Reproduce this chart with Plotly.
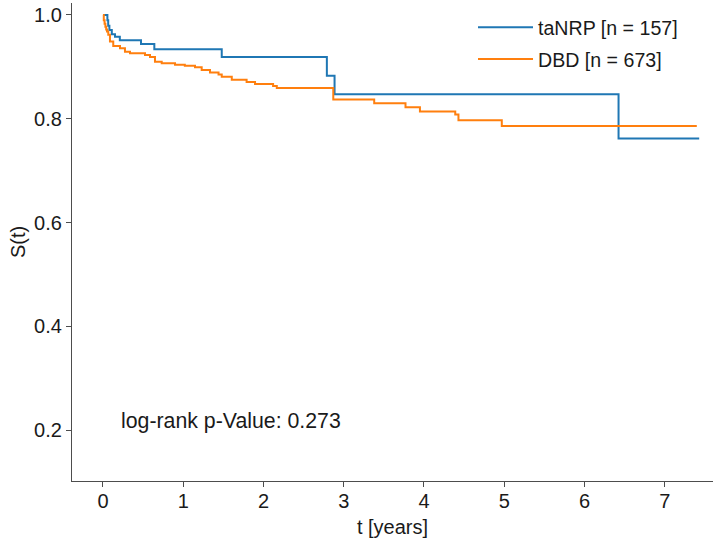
import plotly.graph_objects as go

# Kaplan-Meier step data
tanrp_t = [0.0, 0.055, 0.065, 0.08, 0.11, 0.15, 0.21, 0.474, 0.64, 1.48, 2.79, 2.886, 6.425, 7.43]
tanrp_s = [1.0, 0.990, 0.979, 0.971, 0.963, 0.958, 0.951, 0.944, 0.934, 0.919, 0.883, 0.847, 0.762, 0.762]

dbd_t = [0.0, 0.01, 0.02, 0.03, 0.04, 0.05, 0.066, 0.087, 0.128, 0.212, 0.274, 0.337, 0.524,
         0.586, 0.648, 0.732, 0.898, 1.02, 1.147, 1.23, 1.334, 1.44, 1.48, 1.605, 1.79, 1.895,
         2.12, 2.166, 2.87, 3.38, 3.77, 3.95, 4.39, 4.43, 4.97, 7.40]
dbd_s = [1.0, 0.990, 0.983, 0.977, 0.972, 0.968, 0.962, 0.949, 0.940, 0.936, 0.929, 0.926, 0.923,
         0.919, 0.910, 0.907, 0.904, 0.902, 0.899, 0.894, 0.889, 0.885, 0.881, 0.875, 0.871, 0.867,
         0.863, 0.859, 0.837, 0.830, 0.822, 0.814, 0.808, 0.797, 0.786, 0.786]

series_names = ["taNRP [n = 157]", "DBD [n = 673]"]
x_ticks = [0, 1, 2, 3, 4, 5, 6, 7]
y_ticks = [0.2, 0.4, 0.6, 0.8, 1.0]
y_tick_labels = ["0.2", "0.4", "0.6", "0.8", "1.0"]
p_value_text = "log-rank p-Value: 0.273"

FONT = "Liberation Sans, Arial, Helvetica, sans-serif"
FS = 20
FS_LEG = 19.6
FS_ANN = 21.3

fig = go.Figure()
fig.add_trace(go.Scatter(x=tanrp_t, y=tanrp_s, mode="lines", line=dict(shape="hv", color="#1f77b4", width=2),
                         name=series_names[0], legend="legend"))
fig.add_trace(go.Scatter(x=dbd_t, y=dbd_s, mode="lines", line=dict(shape="hv", color="#ff7f0e", width=2),
                         name=series_names[1], legend="legend2"))

fig.add_annotation(x=0.2, y=0.217, xref="x", yref="y", text=p_value_text, showarrow=False,
                   xanchor="left", yanchor="middle", font=dict(size=FS_ANN, color="#1a1a1a", family=FONT))

axis_common = dict(showgrid=False, zeroline=False, showline=True, linecolor="#4d4d4d", linewidth=1.3,
                   ticks="outside", ticklen=5, tickwidth=1.3, tickcolor="#4d4d4d", automargin=False,
                   tickfont=dict(size=FS, color="#1a1a1a", family=FONT))

legend_common = dict(xanchor="left", yanchor="top", bgcolor="rgba(0,0,0,0)",
                     font=dict(size=FS_LEG, family=FONT, color="#1a1a1a"), itemwidth=55)

fig.update_layout(
    width=718, height=544,
    margin=dict(l=72, r=5, t=3, b=63),
    plot_bgcolor="white", paper_bgcolor="white",
    font=dict(family=FONT, size=FS, color="#1a1a1a"),
    xaxis=dict(range=[-0.386, 7.602], tickvals=x_ticks, ticklabelstandoff=-3,
               title=dict(text="t [years]", standoff=8, font=dict(size=FS)), **axis_common),
    yaxis=dict(range=[0.102, 1.023], tickvals=y_ticks, ticktext=y_tick_labels,
               title=dict(text="S(t)", standoff=3, font=dict(size=FS)), **axis_common),
    legend=dict(x=0.6256, y=0.9895, **legend_common),
    legend2=dict(x=0.6256, y=0.9232, **legend_common),
    showlegend=True,
)

fig.write_html("out.html", config={"displayModeBar": False},
               post_script="document.body.style.margin='0';")
